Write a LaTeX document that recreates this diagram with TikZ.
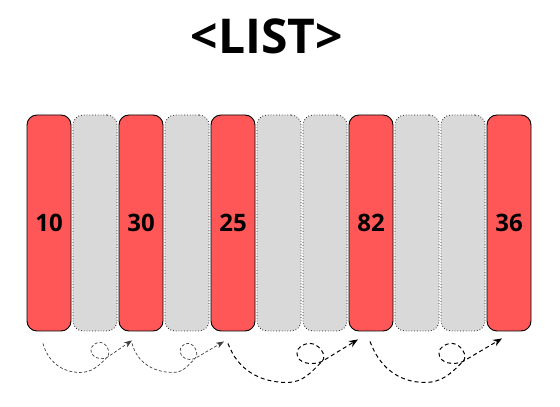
\documentclass[tikz,border=0pt]{standalone}
\usepackage{fontspec}
\setmainfont{Open Sans}
\usetikzlibrary{arrows.meta}
\definecolor{cellred}{HTML}{FF5757}
\definecolor{cellgray}{HTML}{D9D9D9}
\tikzset{
  cell/.style={rectangle, rounded corners=10pt, minimum width=44pt, minimum height=216pt,
    inner sep=0pt, font=\bfseries\fontsize{24}{24}\selectfont},
  full/.style={cell, fill=cellred, draw=black, line width=0.9pt},
  empty/.style={cell, fill=cellgray, draw=black!85, dotted, line width=0.8pt},
  hop/.style={-{Stealth[length=8pt,width=6pt]}, dash pattern=on 3pt off 2pt, line width=0.7pt, draw=black!75},
  jump/.style={-{Stealth[length=9pt,width=7pt]}, dash pattern=on 4pt off 3pt, line width=1pt, draw=black}
}
\begin{document}
\begin{tikzpicture}[x=1pt,y=1pt]
        \useasboundingbox (0,0) rectangle (560,407);

        % Title
        \node[font=\bfseries\fontsize{48}{48}\selectfont] (title) at (267,371) {<LIST>};

        % List cells
        \node[full]  (n10) at (49,184)  {10};
        \node[empty] (e1)  at (95,184)  {};
        \node[full]  (n30) at (141,184) {30};
        \node[empty] (e3)  at (187,184) {};
        \node[full]  (n25) at (233,184) {25};
        \node[empty] (e5)  at (279,184) {};
        \node[empty] (e6)  at (325,184) {};
        \node[full]  (n82) at (371,184) {82};
        \node[empty] (e8)  at (417,184) {};
        \node[empty] (e9)  at (463,184) {};
        \node[full]  (n36) at (509,184) {36};

        % Links
        \draw[hop] ([shift={(-6,-12)}]n10.south) to[out=-75,in=180] ++(37,-29)
            to[out=0,in=225] ++(27,15) to[out=45,in=0] ++(-7,15)
            to[out=180,in=90] ++(-9,-8) to[out=-90,in=210] ++(16,-7)
            -- ([shift={(-9,-9)}]n30.south);
        \draw[hop] ([shift={(-9,-12)}]n30.south) to[out=-75,in=180] ++(41,-29)
            to[out=0,in=225] ++(22,14) to[out=45,in=0] ++(-7,15)
            to[out=180,in=90] ++(-8,-8) to[out=-90,in=210] ++(15,-7)
            -- ([shift={(-9,-10)}]n25.south);
        \draw[jump] ([shift={(-5,-12)}]n25.south) to[out=-70,in=180] ++(59,-39)
            to[out=0,in=225] ++(35,21) to[out=45,in=0] ++(-12,18)
            to[out=180,in=90] ++(-13,-10) to[out=-90,in=205] ++(25,-8)
            -- ([shift={(-13,-8)}]n82.south);
        \draw[jump] ([shift={(-1,-10)}]n82.south) to[out=-70,in=180] ++(55,-41)
            to[out=0,in=225] ++(38,21) to[out=45,in=0] ++(-11,18)
            to[out=180,in=90] ++(-13,-10) to[out=-90,in=205] ++(24,-8)
            -- ([shift={(-7,-7)}]n36.south);
    \end{tikzpicture}
\end{document}
